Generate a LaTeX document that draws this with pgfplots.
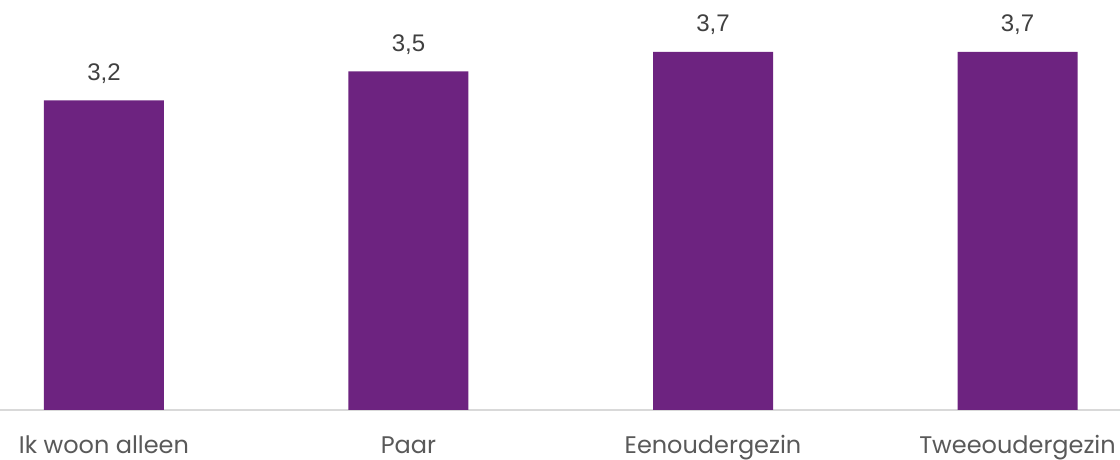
\documentclass[border=0pt]{standalone}
\usepackage{fontspec}
\setmainfont{Poppins}
\newfontfamily\labfont{Liberation Sans}
\usepackage{pgfplots}
\pgfplotsset{compat=1.18}
\definecolor{barc}{HTML}{6D2380}
\definecolor{basec}{HTML}{D9D9D9}
\definecolor{tickc}{HTML}{595959}
\definecolor{valc}{HTML}{404040}
\begin{document}
\begin{tikzpicture}
\useasboundingbox (0,-25pt) rectangle (560pt,205pt);
\clip (0,-25pt) rectangle (560pt,205pt);
\begin{axis}[
  scale only axis,
  width=560pt, height=205pt,
  xmin=-0.3415, xmax=3.3366,
  ymin=0, ymax=4.237,
  axis y line=none,
  axis x line*=bottom,
  axis line style={basec, line width=0.6pt, -},
  xtick=data,
  xticklabels={Ik woon alleen, Paar, Eenoudergezin, Tweeoudergezin},
  major tick length=0pt,
  xticklabel style={font=\fontsize{12}{14}\selectfont, text=tickc, anchor=base, yshift=-22pt, inner sep=0pt},
  ybar, bar width=60pt,
  nodes near coords,
  nodes near coords style={font=\labfont\fontsize{12}{14}\selectfont, text=valc, anchor=base, yshift=10pt, inner sep=0pt},
  point meta=explicit symbolic,
  clip=false,
]
\addplot[fill=barc, draw=none] coordinates {(0,3.2) [3,2] (1,3.5) [3,5] (2,3.7) [3,7] (3,3.7) [3,7]};
\end{axis}
\end{tikzpicture}
\end{document}
